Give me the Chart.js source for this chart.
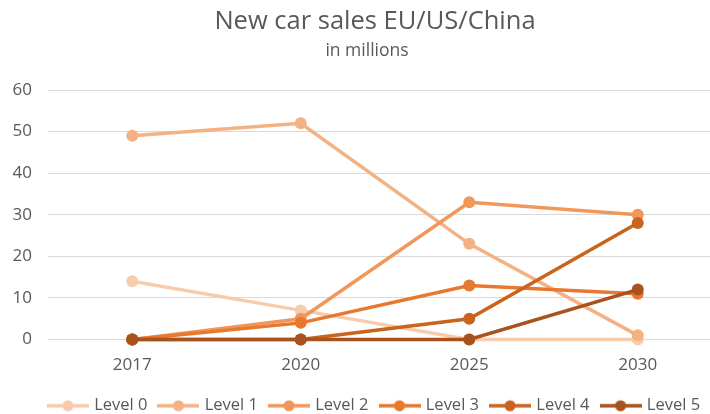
<!DOCTYPE html>
<html>
<head>
<meta charset="utf-8">
<script src="https://cdn.jsdelivr.net/npm/chart.js@4/dist/chart.umd.min.js"></script>
<style>
  html, body { margin: 0; padding: 0; background: #fff; overflow: hidden; }
  #wrap { width: 710px; height: 414px; overflow: hidden; }
  #box { width: 750px; height: 424px; }
</style>
</head>
<body>
<div id="wrap"><div id="box"><canvas id="salesChart"></canvas></div></div>
<script>
const years = ['2017', '2020', '2025', '2030'];
const seriesNames = ['Level 0', 'Level 1', 'Level 2', 'Level 3', 'Level 4', 'Level 5'];
const level0 = [14, 7, 0, 0];
const level1 = [49, 52, 23, 1];
const level2 = [0, 5, 33, 30];
const level3 = [0, 4, 13, 11];
const level4 = [0, 0, 5, 28];
const level5 = [0, 0, 0, 12];
const colors = ['#F8CBAD', '#F4B183', '#F1975A', '#E8782E', '#C9641F', '#A8531D'];

const allLevels = [level0, level1, level2, level3, level4, level5];
const fontFamily = '"Open Sans", "DejaVu Sans", sans-serif';
const textColor = '#595959';

// little line + dot marker for the legend (a bit wider than its legend box)
const makeMarker = (color) => {
  const c = document.createElement('canvas');
  c.width = 42;
  c.height = 14;
  const ctx = c.getContext('2d');
  ctx.strokeStyle = color;
  ctx.lineWidth = 3.5;
  ctx.beginPath();
  ctx.moveTo(0, 7);
  ctx.lineTo(42, 7);
  ctx.stroke();
  ctx.fillStyle = color;
  ctx.beginPath();
  ctx.arc(21, 7, 5.5, 0, Math.PI * 2);
  ctx.fill();
  return c;
};

// center legend, title and subtitle on the whole canvas, not on the padded box
const centerBoxes = {
  id: 'centerBoxes',
  afterLayout: (chart) => {
    [chart.legend, chart.titleBlock, chart.$subtitle].forEach((box) => {
      if (!box) return;
      const shift = chart.width / 2 - (box.left + box.right) / 2;
      box.left += shift;
      box.right += shift;
    });
  },
};

const datasets = allLevels.map((values, i) => ({
  label: seriesNames[i],
  data: values,
  borderColor: colors[i],
  backgroundColor: colors[i],
  pointBackgroundColor: colors[i],
  pointBorderColor: colors[i],
  pointBorderWidth: 0,
  borderWidth: 3.5,
  pointRadius: 6,
  pointHoverRadius: 6,
  tension: 0,
  clip: false,
  order: 5 - i, // later levels drawn on top
}));

new Chart(document.getElementById('salesChart'), {
  type: 'line',
  data: { labels: years, datasets: datasets },
  plugins: [centerBoxes],
  options: {
    responsive: true,
    maintainAspectRatio: false,
    animation: false,
    layout: { padding: { left: 12, right: 28, top: 0, bottom: 0 } },
    plugins: {
      title: {
        display: true,
        text: 'New car sales EU/US/China',
        color: textColor,
        font: { family: fontFamily, size: 25.5, weight: 'normal' },
        padding: { top: 6, bottom: 4 },
      },
      subtitle: {
        display: true,
        text: 'in millions',
        color: textColor,
        font: { family: fontFamily, size: 17.5, weight: 'normal' },
        padding: { top: 0, bottom: 28.4 },
      },
      legend: {
        position: 'bottom',
        labels: {
          usePointStyle: true,
          pointStyleWidth: 36,
          padding: 13,
          color: textColor,
          font: { family: fontFamily, size: 16.5 },
          generateLabels: (chart) =>
            chart.data.datasets.map((ds, i) => ({
              text: ds.label,
              fillStyle: ds.borderColor,
              strokeStyle: ds.borderColor,
              lineWidth: 0,
              pointStyle: makeMarker(ds.borderColor),
              fontColor: textColor,
              hidden: false,
              datasetIndex: i,
            })),
        },
      },
      tooltip: { enabled: false },
    },
    scales: {
      x: {
        offset: true,
        grid: { display: false },
        border: { display: false },
        ticks: {
          color: textColor,
          font: { family: fontFamily, size: 17 },
          padding: 7,
        },
        afterFit: (scale) => {
          scale.height = 45;
        },
      },
      y: {
        min: 0,
        max: 60,
        ticks: {
          stepSize: 10,
          color: textColor,
          font: { family: fontFamily, size: 17 },
          padding: 16,
        },
        grid: { color: '#D9D9D9', lineWidth: 1, drawTicks: false },
        border: { display: false },
        afterFit: (scale) => {
          scale.width = 36;
        },
      },
    },
  },
});
</script>
</body>
</html>
